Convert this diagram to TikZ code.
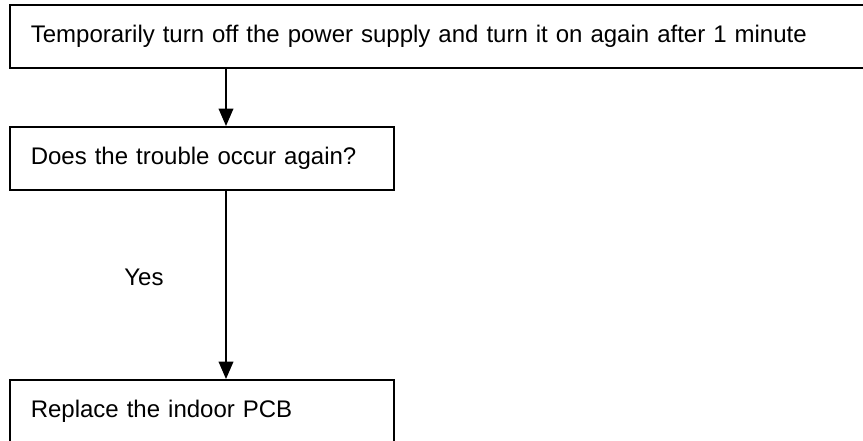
\documentclass[tikz,border=0pt]{standalone}
\usepackage{fontspec}
\setmainfont{Liberation Sans}
\usetikzlibrary{arrows.meta}

\begin{document}
\begin{tikzpicture}[x=0.75pt,y=-0.75pt,font=\fontsize{18}{21}\selectfont,
  stepbox/.style={draw,line width=1.2pt,anchor=north west,minimum height=47.25pt,inner xsep=15.75pt,align=left},
  flow/.style={-{Triangle[width=11pt,length=13pt]},line width=1pt}]
\useasboundingbox (0,0) rectangle (863,441);
\node (poweroff) at (9,4) [stepbox,text width=614.25pt] {Temporarily turn off the power supply and turn it on again after 1 minute};
\node (again) at (9,126) [stepbox,text width=256.5pt] {Does the trouble occur again?};
\node (pcb) at (9,379) [stepbox,text width=256.5pt] {Replace the indoor PCB};
\node (yes) at (144,277) {Yes};
\coordinate (axis) at (226,0);

\draw[flow] (poweroff.south -| axis) -- (again.north -| axis);
\draw[flow] (again.south -| axis) -- (pcb.north -| axis);
\end{tikzpicture}
\end{document}
